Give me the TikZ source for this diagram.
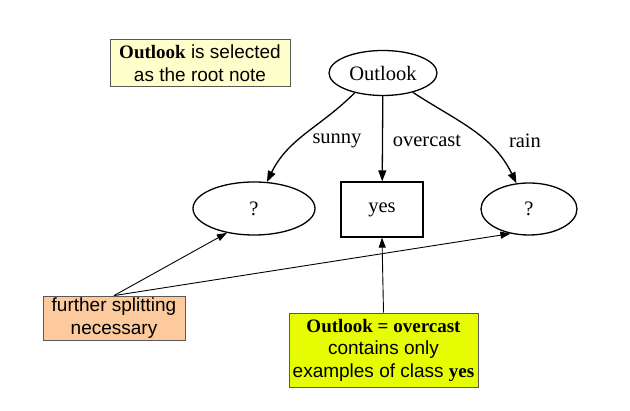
\documentclass[tikz,border=0pt]{standalone}
\usepackage{fontspec}
\setmainfont{Liberation Serif}
\setsansfont{Liberation Sans}
\usetikzlibrary{arrows.meta,shapes.geometric}
\definecolor{notecol}{RGB}{255,255,204}
\definecolor{splitcol}{RGB}{252,202,156}
\definecolor{purecol}{RGB}{230,252,0}
\tikzset{
  dnode/.style={
    draw,
    line width=1.3pt,
    shape = ellipse,
    inner sep = 0pt,
    font = \fontsize{20.5}{24}\selectfont
  },
  leaf/.style={
    draw,
    line width=1.3pt,
    shape = rectangle,
    inner sep = 0pt,
    font = \fontsize{20.5}{24}\selectfont
  },
  note/.style={
    draw = black!65,
    line width=0.8pt,
    inner sep = 0pt,
    align = center,
    font = \fontsize{19}{22.5}\selectfont\sffamily
  },
  elabel/.style={
    font = \fontsize{20.5}{24}\selectfont,
    inner sep = 0pt
  },
}
\tikzset{
  edge/.style={
    line width=1.3pt,
    -{Triangle[length=11pt,width=8pt]}
  },
  thin edge/.style={
    line width=0.9pt,
    -{Triangle[length=10pt,width=7pt]}
  },
}

\begin{document}
\begin{tikzpicture}[x=1pt,y=1pt]
\useasboundingbox (0,0) rectangle (630,411);
% decision tree
\node[dnode,minimum width=108,minimum height=45] (outlook) at (383,338) {Outlook};
\node[dnode,minimum width=122,minimum height=53] (lq) at (254,202.5) {?};
\node[leaf,minimum width=82,minimum height=55] (yes) at (382,201.5) {yes};
\node[dnode,minimum width=96,minimum height=52] (rq) at (529,202) {?};
\node[elabel] (sunny) at (337,270) {sunny};
\node[elabel] (overcast) at (427,270) {overcast};
\node[elabel] (rain) at (525,270) {rain};
\draw[edge] (outlook.215) to[out=225,in=64] (lq.64);
\draw[edge] (outlook) -- (yes);
\draw[edge] (outlook.-33) to[out=-33,in=116] (rq.116);
% notes
\node[note,fill=notecol,minimum width=180,minimum height=47] (root) at (200,348)
  {{\rmfamily\bfseries Outlook} is selected\\as the root note};
\node[note,fill=splitcol,minimum width=142,minimum height=44] (split) at (114,93)
  {further splitting\\necessary};
\node[note,fill=purecol,minimum width=189,minimum height=74] (pure) at (383.5,61)
  {{\rmfamily\bfseries Outlook = overcast}\\contains only\\examples of class {\rmfamily\bfseries yes}};
\foreach \t/\a in {lq/222,rq/233}{
  \draw[thin edge] (split.north) -- (\t.\a);
}
\draw[thin edge] (pure.north) -- (yes.south);
\end{tikzpicture}
\end{document}
